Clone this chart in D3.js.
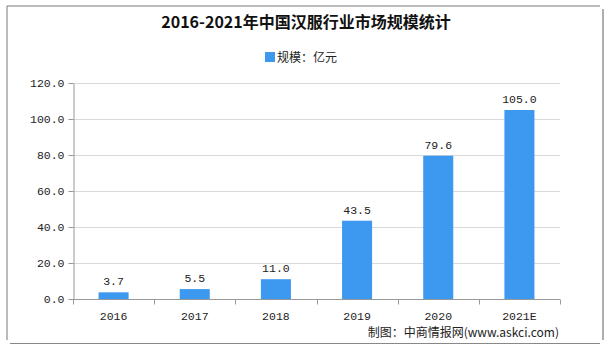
<!DOCTYPE html>
<html><head><meta charset="utf-8">
<script src="https://cdn.jsdelivr.net/npm/d3@7/dist/d3.min.js"></script>
<style>body{margin:0;background:#fff}svg{display:block}</style>
</head><body>
<svg id="c" width="612" height="356"></svg>
<script>
const categories = ["2016","2017","2018","2019","2020","2021E"];
const values = [3.7, 5.5, 11.0, 43.5, 79.6, 105.0];
const yTicks = [0,20,40,60,80,100,120];
const title = "2016-2021年中国汉服行业市场规模统计";
const legendLabel = "规模：亿元";
const source = "制图：中商情报网(www.askci.com)";

const svg = d3.select("#c");
const W = 612, H = 356;
const m = {l:73, r:52, t:83, b:57};
const numFont = "'Liberation Mono','DejaVu Sans Mono',monospace";
const cjkFont = "'Noto Sans CJK SC','Noto Sans',sans-serif";

// frame
svg.append("path").attr("d","M7,340 L7,6 L600,6").attr("fill","none").attr("stroke","#777").attr("stroke-width",1);
svg.append("path").attr("d","M603,9 L603,340").attr("fill","none").attr("stroke","#777").attr("stroke-width",1.2);
svg.append("path").attr("d","M10,343.5 L600,343.5").attr("fill","none").attr("stroke","#888").attr("stroke-width",1.2);

const x = d3.scaleBand().domain(categories).range([m.l, W-m.r]).paddingInner(0.63).paddingOuter(0.315);
const y = d3.scaleLinear().domain([0,120]).range([H-m.b, m.t]);

// grid
svg.append("g").selectAll("line").data(yTicks.filter(d=>d>0)).join("line")
  .attr("x1",m.l).attr("x2",W-m.r).attr("y1",d=>y(d)+0.5).attr("y2",d=>y(d)+0.5)
  .attr("stroke","#d9d9d9").attr("stroke-width",1);

// bars
svg.append("g").selectAll("rect").data(values).join("rect")
  .attr("x",(d,i)=>x(categories[i])).attr("width",x.bandwidth())
  .attr("y",d=>y(d)).attr("height",d=>y(0)-y(d))
  .attr("fill","#3d98f0");

// value labels
svg.append("g").selectAll("text").data(values).join("text")
  .attr("x",(d,i)=>x(categories[i])+x.bandwidth()/2).attr("y",d=>y(d)-7)
  .attr("text-anchor","middle").attr("font-family",numFont).attr("font-size",11.5).attr("fill","#222")
  .text(d=>d.toFixed(1));

// y axis
const ya = svg.append("g").attr("transform",`translate(${m.l+0.5},0)`)
  .call(d3.axisLeft(y).tickValues(yTicks).tickFormat(d=>d.toFixed(1)).tickSize(5).tickSizeOuter(0));
ya.select(".domain").attr("stroke","#999");
ya.selectAll(".tick line").attr("stroke","#999");
ya.selectAll("text").attr("font-family",numFont).attr("font-size",11.5).attr("fill","#222").attr("dx","-1");

// x axis
const boundaries = d3.range(categories.length+1).map(i=>m.l + i*(W-m.r-m.l)/categories.length);
const xa = svg.append("g").attr("transform",`translate(0,${y(0)+0.5})`);
xa.append("line").attr("x1",m.l).attr("x2",W-m.r).attr("stroke","#999");
xa.selectAll("line.t").data(boundaries).join("line").attr("class","t")
  .attr("x1",d=>Math.round(d)+0.5).attr("x2",d=>Math.round(d)+0.5).attr("y1",0).attr("y2",5).attr("stroke","#999");
xa.selectAll("text").data(categories).join("text")
  .attr("x",d=>x(d)+x.bandwidth()/2).attr("y",20)
  .attr("text-anchor","middle").attr("font-family",numFont).attr("font-size",11.5).attr("fill","#222")
  .text(d=>d);

// title
svg.append("text").attr("x",306).attr("y",28).attr("text-anchor","middle")
  .attr("font-family",cjkFont).attr("font-weight","bold").attr("font-size",16).attr("fill","#111").text(title);

// legend
const lg = svg.append("g");
lg.append("rect").attr("x",265).attr("y",52).attr("width",10).attr("height",10).attr("fill","#3d98f0");
lg.append("text").attr("x",277).attr("y",61.5).attr("font-family",cjkFont).attr("font-size",12).attr("fill","#222").text(legendLabel);

// source
svg.append("text").attr("x",559).attr("y",337).attr("text-anchor","end")
  .attr("font-family",cjkFont).attr("font-size",12).attr("fill","#222").text(source);
</script>
</body></html>
